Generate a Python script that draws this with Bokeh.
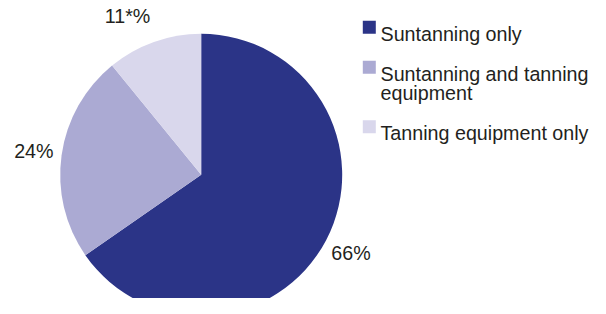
import numpy as np
from bokeh.plotting import figure
from bokeh.models import Range1d, ColumnDataSource
from bokeh.core.properties import value
from bokeh.embed import file_html
from bokeh.resources import INLINE

# ---- data ----
categories = ["Suntanning only", "Suntanning and tanning\nequipment", "Tanning equipment only"]
values = [66, 24, 11]
pct_labels = ["66%", "24%", "11*%"]
colors = ["#2B3487", "#ABAAD3", "#D9D7EC"]

FONT = value("Liberation Sans")
FS = "19.7px"
TXT = "#231F20"

W, H = 598, 298
p = figure(width=W, height=H, output_backend="svg", toolbar_location=None,
           x_range=Range1d(0, W), y_range=Range1d(314 - H, 314),
           min_border=0, outline_line_color=None)
p.axis.visible = False
p.grid.visible = False
p.background_fill_color = "white"

# pie (coordinates: 1 unit = 1 px, y measured upward from image bottom)
cx, cy, r = 200.7, 314 - 174.3, 141
vals = np.array(values, dtype=float)
frac = vals / vals.sum()
cum = np.concatenate([[0], np.cumsum(frac)])
start = np.pi / 2 - cum[:-1] * 2 * np.pi
end = np.pi / 2 - cum[1:] * 2 * np.pi
src = ColumnDataSource(dict(start=start, end=end, color=colors))
p.wedge(x=cx, y=cy, radius=r, start_angle="start", end_angle="end",
        direction="clock", fill_color="color", line_color=None, source=src)

# percentage labels
mid = (start + end) / 2
lr = 169
lx = cx + lr * np.cos(mid)
ly = cy + lr * np.sin(mid)
x_nudge = [0, 0, -17]
lx = lx + np.array(x_nudge)
p.text(x=lx, y=ly, text=pct_labels, text_font=FONT, text_font_size=FS,
       text_color=TXT, text_align="center", text_baseline="middle")

# legend
sq_x, sq_size = 368.8, 13
txt_x = 380
base0 = 314 - 33.3
row_gap = 40
line_gap = 19.5
b = base0
tx, ty, tt, sx, sy = [], [], [], [], []
for cat in categories:
    lines = cat.split("\n")
    sy.append(b + 6.5)
    sx.append(sq_x)
    for i, ln in enumerate(lines):
        tx.append(txt_x)
        ty.append(b - i * line_gap)
        tt.append(ln)
    b -= row_gap + (len(lines) - 1) * line_gap
p.rect(x=sx, y=sy, width=sq_size, height=sq_size, fill_color=colors, line_color=None)
p.text(x=tx, y=ty, text=tt, text_font=FONT, text_font_size=FS, text_color=TXT,
       text_align="left", text_baseline="alphabetic")

open("out.html", "w").write(file_html(p, INLINE))
